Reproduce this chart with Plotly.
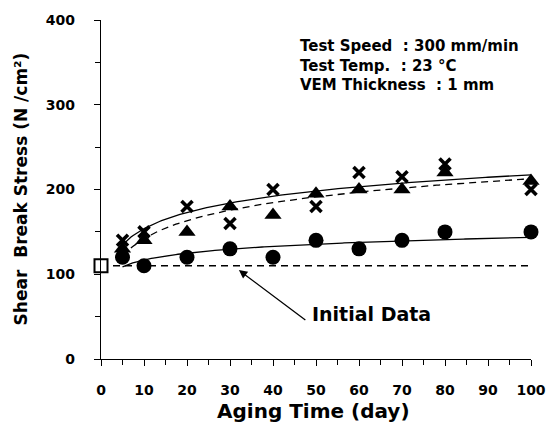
import numpy as np
import plotly.graph_objects as go

# ---- data ----
days = [5, 10, 20, 30, 40, 50, 60, 70, 80, 100]
stress_circle = [120, 110, 120, 130, 120, 140, 130, 140, 150, 150]
stress_triangle = [130, 140, 150, 180, 170, 195, 200, 200, 220, 210]
stress_cross = [140, 150, 180, 160, 200, 180, 220, 215, 230, 200]
initial_day = [0]
initial_stress = [110]

x_ticks = [0, 10, 20, 30, 40, 50, 60, 70, 80, 90, 100]
y_ticks = [0, 100, 200, 300, 400]

FONT = "DejaVu Sans"


def log_fit(xs, ys):
    lx = np.log(np.array(xs, dtype=float))
    b, a = np.polyfit(lx, np.array(ys, dtype=float), 1)
    xf = np.linspace(min(xs), max(xs), 200)
    return xf, a + b * np.log(xf)


fig = go.Figure()

# reference dashed line at initial value
fig.add_trace(go.Scatter(x=[0, 100], y=[initial_stress[0]] * 2, mode="lines",
                         line=dict(color="black", width=1.3, dash="7px,5px"),
                         showlegend=False, hoverinfo="skip"))

# fits
for ys, dash in [(stress_cross, "solid"), (stress_triangle, "7px,5px"), (stress_circle, "solid")]:
    xf, yf = log_fit(days, ys)
    fig.add_trace(go.Scatter(x=xf, y=yf, mode="lines",
                             line=dict(color="black", width=1.3, dash=dash),
                             showlegend=False, hoverinfo="skip"))

# markers
fig.add_trace(go.Scatter(x=days, y=stress_circle, mode="markers",
                         marker=dict(symbol="circle", size=15, color="black"),
                         showlegend=False, cliponaxis=False))
fig.add_trace(go.Scatter(x=days, y=stress_triangle, mode="markers",
                         marker=dict(symbol="triangle-up", size=15, color="black"),
                         showlegend=False, cliponaxis=False))
fig.add_trace(go.Scatter(x=days, y=stress_cross, mode="markers",
                         marker=dict(symbol="x-thin", size=11, color="black",
                                     line=dict(color="black", width=3.6)),
                         showlegend=False, cliponaxis=False))
fig.add_trace(go.Scatter(x=initial_day, y=initial_stress, mode="markers",
                         marker=dict(symbol="square", size=13, color="white",
                                     line=dict(color="black", width=2)),
                         showlegend=False, cliponaxis=False))

tickfont = dict(family=FONT, size=14, color="black", weight="bold")

fig.update_xaxes(range=[0, 100], tickvals=x_ticks, ticktext=[str(v) for v in x_ticks],
                 showline=True, linecolor="black", linewidth=1.3,
                 ticks="outside", ticklen=6, tickwidth=1.2, tickcolor="black",
                 minor=dict(dtick=5, ticks="outside", ticklen=5, tickwidth=1.2, tickcolor="black"),
                 showgrid=False, zeroline=False, tickfont=tickfont, ticklabelstandoff=12)
fig.update_yaxes(range=[0, 400], tickvals=y_ticks, ticktext=[str(v) for v in y_ticks],
                 showline=True, linecolor="black", linewidth=1.3,
                 ticks="outside", ticklen=6, tickwidth=1.2, tickcolor="black",
                 minor=dict(dtick=50, ticks="outside", ticklen=5, tickwidth=1.2, tickcolor="black"),
                 showgrid=False, zeroline=False, tickfont=tickfont, ticklabelstandoff=16)

annotations = [
    dict(text="Aging Time (day)", xref="paper", yref="paper", x=0.495, y=-0.152,
         xanchor="center", yanchor="middle", showarrow=False,
         font=dict(family=FONT, size=20, color="black", weight="bold")),
    dict(text="Shear  Break Stress (N /cm²)", xref="paper", yref="paper", x=-0.1855, y=0.501,
         textangle=-90, xanchor="center", yanchor="middle", showarrow=False,
         font=dict(family=FONT, size=17, color="black", weight="bold")),
    dict(text="Test Speed  : 300 mm/min<br>Test Temp.  : 23 °C<br>VEM Thickness  : 1 mm",
         xref="paper", yref="paper", x=0.457, y=0.957, xanchor="left", yanchor="top",
         align="left", showarrow=False,
         font=dict(family=FONT, size=15, color="black", weight="bold")),
    dict(text="Initial Data", x=48.6, y=52.6, xanchor="left", yanchor="middle",
         showarrow=False, font=dict(family=FONT, size=19, color="black", weight="bold")),
    dict(text="", x=32.06, y=104.9, ax=68, ay=51, showarrow=True,
         arrowhead=2, arrowsize=1.3, arrowwidth=1.3, arrowcolor="black"),
]

fig.update_layout(width=558, height=427, margin=dict(l=101, r=15, t=17, b=68),
                  paper_bgcolor="white", plot_bgcolor="white",
                  annotations=annotations, showlegend=False)

fig.write_html("out.html")
